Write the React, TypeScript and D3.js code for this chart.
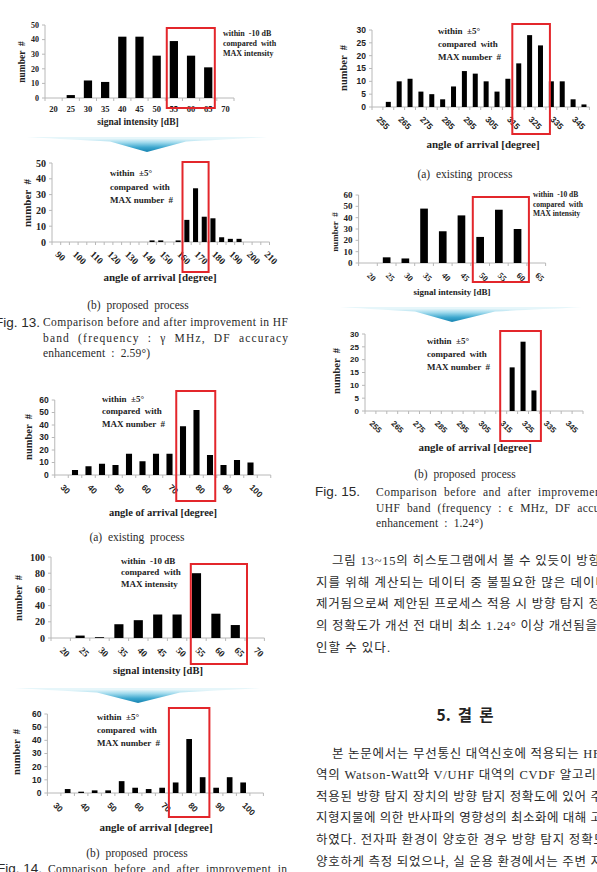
import React from 'react';
import * as d3 from 'd3';

const SERIF = "'Liberation Serif', 'Times New Roman', serif";
const SANS = "'Liberation Sans', Arial, sans-serif";
const KR = "'Liberation Serif', 'Noto Sans CJK KR', serif";

// Fig. 13 — HF band
const dbBins13 = [20, 25, 30, 35, 40, 45, 50, 55, 60, 65, 70];
const dbCounts13 = [0, 2, 12, 11, 42, 42, 29, 39, 29, 21, 0];
const angleBins13 = [90, 95, 100, 105, 110, 115, 120, 125, 130, 135, 140, 145, 150, 155, 160, 165, 170, 175, 180, 185, 190, 195, 200, 205, 210];
const angleCounts13 = [0, 0, 0, 0, 0, 0, 0, 0, 0, 0, 0, 1, 1, 0, 1, 14, 34, 16, 15, 3, 2, 2, 0, 0, 0];
const angleLabels13 = [90, 100, 110, 120, 130, 140, 150, 160, 170, 180, 190, 200, 210];

// Fig. 14
const angleBins14 = [30, 35, 40, 45, 50, 55, 60, 65, 70, 75, 80, 85, 90, 95, 100, 105];
const angleCounts14a = [0, 4, 7, 9, 8, 17, 11, 17, 17, 39, 52, 16, 8, 12, 10, 0];
const angleCounts14b = [0, 3, 1, 2, 2, 9, 4, 3, 4, 8, 41, 12, 4, 12, 8, 0];
const angleLabels14 = [30, 40, 50, 60, 70, 80, 90, 100];
const dbBins14 = [20, 25, 30, 35, 40, 45, 50, 55, 60, 65, 70];
const dbCounts14 = [0, 3, 1, 17, 22, 29, 29, 80, 30, 16, 0];

// Fig. 15 — UHF band
const angleBins15 = [255, 260, 265, 270, 275, 280, 285, 290, 295, 300, 305, 310, 315, 320, 325, 330, 335, 340, 345, 350];
const angleCounts15a = [0, 2, 10, 11, 6, 5, 3, 8, 14, 13, 10, 6, 11, 17, 28, 24, 10, 10, 3, 1];
const angleCounts15b = [0, 0, 0, 0, 0, 0, 0, 0, 0, 0, 0, 0, 0, 17, 27, 8, 0, 0, 0, 0];
const angleLabels15 = [255, 265, 275, 285, 295, 305, 315, 325, 335, 345];
const dbBins15 = [20, 25, 30, 35, 40, 45, 50, 55, 60, 65];
const dbCounts15 = [0, 5, 4, 48, 28, 42, 23, 47, 30, 0];

const yTicks30 = [0, 5, 10, 15, 20, 25, 30];
const yTicks50 = [0, 10, 20, 30, 40, 50];
const yTicks60 = [0, 10, 20, 30, 40, 50, 60];
const yTicks100 = [0, 20, 40, 60, 80, 100];

const noteDb = ['within  -10 dB', 'compared  with', 'MAX intensity'];
const noteAngle = ['within  ±5°', 'compared  with', 'MAX number  #'];
const titleDb = 'signal intensity [dB]';
const titleAngle = 'angle of arrival [degree]';

const para1 = [
  '그림 13~15의 히스토그램에서 볼 수 있듯이 방향',
  '지를 위해 계산되는 데이터 중 불필요한 많은 데이터',
  '제거됨으로써 제안된 프로세스 적용 시 방향 탐지 정',
  '의 정확도가 개선 전 대비 최소 1.24° 이상 개선됨을',
  '인할 수 있다.',
];
const para2 = [
  '본 논문에서는 무선통신 대역신호에 적용되는 HF',
  '역의 Watson-Watt와 V/UHF 대역의 CVDF 알고리즘',
  '적용된 방향 탐지 장치의 방향 탐지 정확도에 있어 주',
  '지형지물에 의한 반사파의 영향성의 최소화에 대해 고',
  '하였다. 전자파 환경이 양호한 경우 방향 탐지 정확도',
  '양호하게 측정 되었으나, 실 운용 환경에서는 주변 지',
];

type HistProps = {
  bins: number[];
  counts: number[];
  labels: number[];
  yTicks: number[];
  left: number;
  right: number;
  top: number;
  bottom: number;
  gap: number;
  rotate: boolean;
  tickFont: string;
  tickSize: number;
  ySize?: number;
  box: [number, number];
  boxTop: number;
  boxBottom: number;
  boxInset: [number, number];
  note: string[];
  noteX: number;
  noteY: number;
  noteGap: number;
  noteSize: number;
  title: string;
  titleX: number;
  titleY: number;
  titleSize: number;
  yTitleX: number;
  yTitleY: number;
  yTitleSize: number;
};

const Histogram: React.FC<HistProps> = (p) => {
  const x = d3.scaleBand<number>().domain(p.bins).range([p.left, p.right]);
  const y = d3.scaleLinear().domain([0, d3.max(p.yTicks)!]).range([p.bottom, p.top]);
  const step = x.step();
  const bw = step * (1 - p.gap);
  const boxX0 = x(p.box[0])! + p.boxInset[0];
  const boxX1 = x(p.box[1])! + step + p.boxInset[1];
  const ySize = p.ySize ?? p.tickSize;

  return (
    <g>
      {/* axes */}
      <line x1={p.left} x2={p.right} y1={p.bottom} y2={p.bottom} stroke="#b8b8b8" strokeWidth={1} />
      <line x1={p.left} x2={p.left} y1={p.top} y2={p.bottom} stroke="#b8b8b8" strokeWidth={1} />
      {p.bins.map((b) => (
        <line key={'xt' + b} x1={x(b)!} x2={x(b)!} y1={p.bottom} y2={p.bottom + 3} stroke="#b8b8b8" />
      ))}
      <line x1={p.right} x2={p.right} y1={p.bottom} y2={p.bottom + 3} stroke="#b8b8b8" />
      {p.yTicks.map((t) => (
        <g key={'yt' + t}>
          <line x1={p.left - 3} x2={p.left} y1={y(t)} y2={y(t)} stroke="#b8b8b8" />
          <text
            x={p.left - 6}
            y={y(t) + ySize * 0.35}
            textAnchor="end"
            fontFamily={p.tickFont}
            fontWeight="bold"
            fontSize={ySize}
            fill="#222"
          >
            {t}
          </text>
        </g>
      ))}

      {/* bars */}
      {p.bins.map((b, i) =>
        p.counts[i] > 0 ? (
          <rect
            key={'bar' + b}
            x={x(b)! + (step - bw) / 2}
            y={y(p.counts[i])}
            width={bw}
            height={p.bottom - y(p.counts[i])}
            fill="#000"
          />
        ) : null
      )}

      {/* category labels */}
      {p.labels.map((b) => {
        const cx = x(b)! + step / 2;
        return p.rotate ? (
          <text
            key={'xl' + b}
            transform={`translate(${cx - 1.5},${p.bottom + 13}) rotate(45)`}
            fontFamily={p.tickFont}
            fontWeight="bold"
            fontSize={p.tickSize}
            fill="#222"
          >
            {b}
          </text>
        ) : (
          <text
            key={'xl' + b}
            x={cx}
            y={p.bottom + 13.5}
            textAnchor="middle"
            fontFamily={p.tickFont}
            fontWeight="bold"
            fontSize={p.tickSize}
            fill="#222"
          >
            {b}
          </text>
        );
      })}

      {/* highlighted range */}
      <rect
        x={boxX0}
        y={p.boxTop}
        width={boxX1 - boxX0}
        height={p.boxBottom - p.boxTop}
        fill="none"
        stroke="#e3262b"
        strokeWidth={2}
      />

      {p.note.map((s, i) => (
        <text
          key={'n' + i}
          x={p.noteX}
          y={p.noteY + i * p.noteGap}
          fontFamily={SERIF}
          fontWeight="bold"
          fontSize={p.noteSize}
          fill="#222"
          style={{ whiteSpace: 'pre' }}
        >
          {s}
        </text>
      ))}

      <text
        x={p.titleX}
        y={p.titleY}
        textAnchor="middle"
        fontFamily={SERIF}
        fontWeight="bold"
        fontSize={p.titleSize}
        fill="#222"
      >
        {p.title}
      </text>
      <text
        transform={`translate(${p.yTitleX + p.yTitleSize * 0.33},${p.yTitleY}) rotate(-90)`}
        textAnchor="middle"
        fontFamily={SERIF}
        fontWeight="bold"
        fontSize={p.yTitleSize}
        fill="#222"
        style={{ whiteSpace: 'pre' }}
      >
        number  #
      </text>
    </g>
  );
};

// downward chevron between the before/after panels
const Chevron: React.FC<{ x0: number; x1: number; top: number; v0: number; v1: number; tipX: number; tipY: number }> = ({
  x0, x1, top, v0, v1, tipX, tipY,
}) => {
  const d = `M${x0},${top} L${x1},${top} C${x1 - 30},${top + 2} ${v1 + 25},${top + 3} ${v1},${top + 4.5} L${tipX},${tipY} L${v0},${top + 4.5} C${v0 - 25},${top + 3} ${x0 + 30},${top + 2} ${x0},${top} Z`;
  return <path d={d} fill="url(#chev)" />;
};

const Caption: React.FC<{ x: number; y: number; text: string; size?: number; len?: number; anchor?: string; font?: string }> = ({
  x, y, text, size = 11.5, len, anchor = 'start', font = SERIF,
}) => (
  <text
    x={x}
    y={y}
    fontFamily={font}
    fontSize={size}
    fill="#2a2a2a"
    textAnchor={anchor}
    textLength={len}
    lengthAdjust={len ? 'spacing' : undefined}
    style={{ whiteSpace: 'pre' }}
  >
    {text}
  </text>
);

const para1Layout = [
  { x: 332, len: 268 },
  { x: 316, len: 291 },
  { x: 316, len: 284 },
  { x: 316, len: 281 },
  { x: 316, len: 74 },
];
const para2Layout = [
  { x: 332, len: 268 },
  { x: 316, len: 292 },
  { x: 316, len: 286 },
  { x: 316, len: 286 },
  { x: 316, len: 289 },
  { x: 316, len: 286 },
];

export default function App() {
  return (
    <svg
      width={597}
      height={872}
      viewBox="0 0 597 872"
      style={{ position: 'absolute', left: 0, top: 0, background: '#fff' }}
    >
      <defs>
        <radialGradient id="chev" cx="0.5" cy="1" r="0.9">
          <stop offset="0" stopColor="#1582b0" />
          <stop offset="0.35" stopColor="#3ea8cf" />
          <stop offset="0.7" stopColor="#9ed9ec" />
          <stop offset="1" stopColor="#e6f6fa" />
        </radialGradient>
      </defs>

      {/* ---------- left column ---------- */}
      <Histogram
        bins={dbBins13} counts={dbCounts13} labels={dbBins13} yTicks={yTicks50}
        left={45} right={234} top={25} bottom={98} gap={0.52}
        rotate={false} tickFont={SERIF} tickSize={8.5} ySize={8}
        box={[55, 65]} boxTop={28} boxBottom={108} boxInset={[1.5, -2]}
        note={noteDb} noteX={223} noteY={35.5} noteGap={10} noteSize={8}
        title={titleDb} titleX={138} titleY={125} titleSize={9.5}
        yTitleX={22} yTitleY={62} yTitleSize={9.5}
      />
      <Chevron x0={27} x1={267} top={137} v0={110} v1={186} tipX={147} tipY={152} />
      <Histogram
        bins={angleBins13} counts={angleCounts13} labels={angleLabels13} yTicks={yTicks50}
        left={52} right={269.5} top={163} bottom={242} gap={0.42}
        rotate tickFont={SERIF} tickSize={9.5} ySize={10}
        box={[165, 175]} boxTop={162} boxBottom={272} boxInset={[0, 0]}
        note={noteAngle} noteX={110} noteY={176} noteGap={13.5} noteSize={9}
        title={titleAngle} titleX={160} titleY={281} titleSize={11}
        yTitleX={27} yTitleY={203} yTitleSize={11}
      />
      <Caption x={138} y={309} text="(b)  proposed  process" anchor="middle" />
      <Caption x={40} y={327} text="Fig. 13." anchor="end" size={13.5} font={SANS} />
      <Caption x={43} y={326} text="Comparison before and after improvement in HF" len={245} />
      <Caption x={43} y={341.5} text="band  (frequency  :  γ  MHz,  DF  accuracy" len={245} />
      <Caption x={43} y={357} text="enhancement  :  2.59°)" len={107} />

      <Histogram
        bins={angleBins14} counts={angleCounts14a} labels={angleLabels14} yTicks={yTicks60}
        left={54.75} right={270.75} top={400} bottom={475} gap={0.55}
        rotate tickFont={SANS} tickSize={8.5}
        box={[75, 85]} boxTop={391} boxBottom={501} boxInset={[0, -1.5]}
        note={noteAngle} noteX={102} noteY={401.5} noteGap={12.5} noteSize={9}
        title={titleAngle} titleX={163} titleY={516} titleSize={10.5}
        yTitleX={29} yTitleY={437} yTitleSize={10.5}
      />
      <Caption x={137} y={541} text="(a)  existing  process" anchor="middle" />
      <Histogram
        bins={dbBins14} counts={dbCounts14} labels={dbBins14} yTicks={yTicks100}
        left={51} right={264.4} top={557} bottom={638} gap={0.53}
        rotate tickFont={SERIF} tickSize={9.5} ySize={10}
        box={[55, 65]} boxTop={564} boxBottom={664} boxInset={[4, 2]}
        note={noteDb} noteX={121} noteY={563.5} noteGap={11.5} noteSize={9}
        title={titleDb} titleX={158} titleY={674} titleSize={10.5}
        yTitleX={19} yTitleY={598} yTitleSize={10.5}
      />
      <Chevron x0={15} x1={260} top={688} v0={97} v1={180} tipX={138} tipY={703} />
      <Histogram
        bins={angleBins14} counts={angleCounts14b} labels={angleLabels14} yTicks={yTicks60}
        left={47.4} right={263.4} top={714} bottom={793} gap={0.58}
        rotate tickFont={SANS} tickSize={8.5}
        box={[75, 85]} boxTop={708} boxBottom={817} boxInset={[0, 0]}
        note={noteAngle} noteX={97} noteY={720} noteGap={13} noteSize={9}
        title={titleAngle} titleX={156} titleY={831} titleSize={11}
        yTitleX={17} yTitleY={752} yTitleSize={10.5}
      />
      <Caption x={137} y={857} text="(b)  proposed  process" anchor="middle" />
      <Caption x={42} y={873} text="Fig. 14." anchor="end" size={13.5} font={SANS} />
      <Caption x={48} y={873} text="Comparison  before  and  after  improvement  in" len={239} />

      {/* ---------- right column ---------- */}
      <Histogram
        bins={angleBins15} counts={angleCounts15a} labels={angleLabels15} yTicks={yTicks30}
        left={372} right={589.4} top={30} bottom={107} gap={0.54}
        rotate tickFont={SANS} tickSize={8.5}
        box={[320, 330]} boxTop={24} boxBottom={134} boxInset={[-1, 4]}
        note={noteAngle} noteX={438} noteY={33.5} noteGap={13} noteSize={9}
        title={titleAngle} titleX={483} titleY={148} titleSize={11}
        yTitleX={344} yTitleY={68} yTitleSize={10.5}
      />
      <Caption x={465} y={178} text="(a)  existing  process" anchor="middle" />
      <Histogram
        bins={dbBins15} counts={dbCounts15} labels={dbBins15} yTicks={yTicks60}
        left={358.6} right={545.6} top={195} bottom={263} gap={0.59}
        rotate tickFont={SERIF} tickSize={8.5} ySize={9}
        box={[50, 60]} boxTop={197} boxBottom={282} boxInset={[2, 2]}
        note={noteDb} noteX={533} noteY={197} noteGap={9.5} noteSize={7.5}
        title={titleDb} titleX={452} titleY={295} titleSize={9}
        yTitleX={335} yTitleY={232} yTitleSize={9}
      />
      <Chevron x0={340} x1={582} top={307} v0={415} v1={495} tipX={452} tipY={322} />
      <Histogram
        bins={angleBins15} counts={angleCounts15b} labels={angleLabels15} yTicks={yTicks30}
        left={365} right={583} top={334} bottom={411} gap={0.54}
        rotate tickFont={SANS} tickSize={8}
        box={[320, 330]} boxTop={331} boxBottom={441} boxInset={[-6.5, 1.5]}
        note={noteAngle} noteX={427} noteY={343.5} noteGap={13} noteSize={9}
        title={titleAngle} titleX={475} titleY={451} titleSize={11}
        yTitleX={337} yTitleY={371} yTitleSize={10.5}
      />
      <Caption x={465} y={478} text="(b)  proposed  process" anchor="middle" />
      <Caption x={315} y={496} text="Fig. 15." size={13.5} font={SANS} />
      <Caption x={376} y={496} text="Comparison  before  and  after  improvement  in" len={245} />
      <Caption x={376} y={511.5} text="UHF  band  (frequency  :  ϵ  MHz,  DF  accuracy" len={245} />
      <Caption x={376} y={527} text="enhancement  :  1.24°)" len={107} />

      {para1.map((s, i) => (
        <Caption key={'p1' + i} x={para1Layout[i].x} y={565 + i * 21.7} text={s} size={12.5} len={para1Layout[i].len} font={KR} />
      ))}

      <text
        x={465}
        y={721}
        textAnchor="middle"
        fontFamily="'Noto Sans CJK KR', sans-serif"
        fontWeight="bold"
        fontSize={15.5}
        fill="#222"
        style={{ whiteSpace: 'pre' }}
      >
        5.  결  론
      </text>

      {para2.map((s, i) => (
        <Caption key={'p2' + i} x={para2Layout[i].x} y={757.5 + i * 21.6} text={s} size={12.5} len={para2Layout[i].len} font={KR} />
      ))}
    </svg>
  );
}
